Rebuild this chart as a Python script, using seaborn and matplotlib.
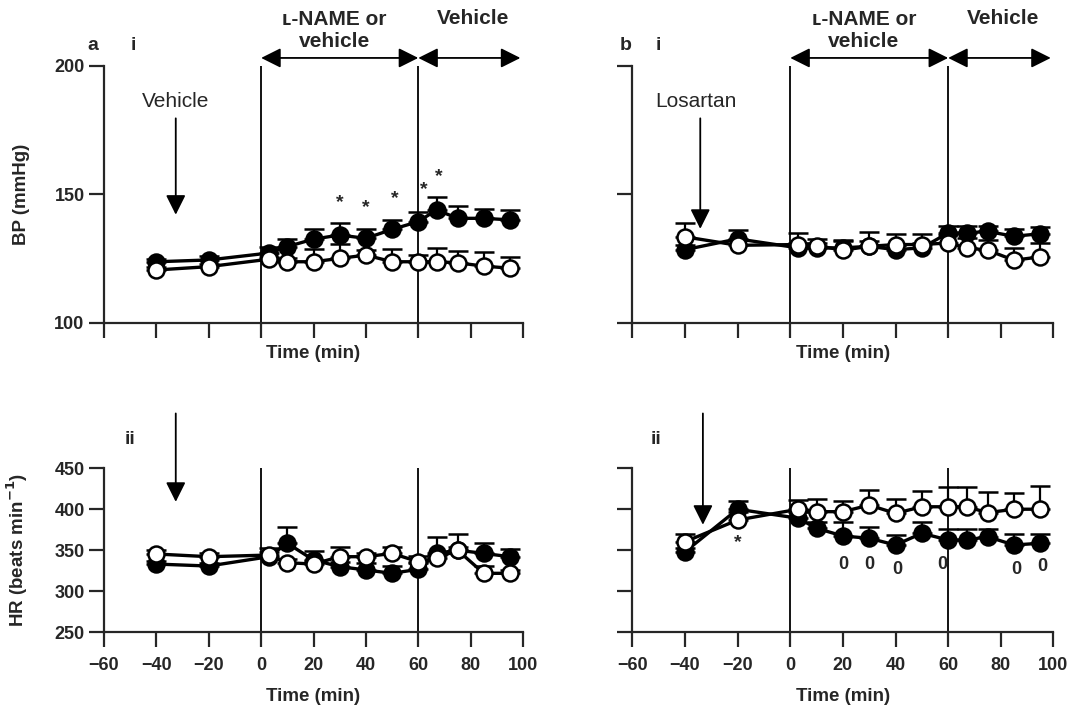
import numpy as np
import pandas as pd
import matplotlib
matplotlib.use('Agg')
import matplotlib.pyplot as plt
import seaborn as sns

sns.set_style('ticks')
plt.rcParams['font.family'] = ['Liberation Sans', 'DejaVu Sans']
plt.rcParams['axes.linewidth'] = 1.6

# --- DATA ---
time_min = [-40, -20, 3, 10, 20, 30, 40, 50, 60, 67, 75, 85, 95]

# panel a: vehicle pre-treatment
bp_a_lname = [123.7, 124.4, 127.1, 129.6, 132.5, 134.1, 132.8, 136.3, 139.3, 143.9, 140.6, 140.6, 140.0]
bp_a_lname_err = [1.0, 1.6, 2.2, 2.9, 4.0, 4.6, 3.7, 3.7, 3.7, 5.1, 4.8, 3.5, 3.9]
bp_a_veh = [120.5, 121.8, 124.7, 123.7, 123.7, 125.0, 126.3, 123.7, 123.7, 123.7, 123.3, 122.0, 121.2]
bp_a_veh_err = [1.0, 1.0, 1.0, 1.5, 5.0, 5.7, 2.0, 5.0, 2.8, 5.3, 4.5, 5.4, 4.5]

hr_a_lname = [333, 330.6, 342, 358.4, 338, 329.8, 325.8, 321.7, 326.6, 346, 350, 346, 342]
hr_a_lname_err = [4, 4, 11, 20, 11, 6, 8, 9, 8, 20, 20, 13, 10]
hr_a_veh = [345.3, 342, 344, 334.7, 333, 342, 342, 346, 335.9, 340, 350, 321.7, 321.7]
hr_a_veh_err = [5, 5, 4, 4, 4, 11.5, 5, 8, 7, 4, 4, 9, 4]

# panel b: losartan pre-treatment
bp_b_lname = [128.4, 132.6, 129.1, 129.1, 129.1, 129.7, 128.4, 129.1, 134.9, 134.9, 135.5, 133.6, 134.6]
bp_b_lname_err = [2, 3.6, 2, 2, 2.5, 2, 2, 2, 2.8, 2.6, 2.2, 2.9, 2.6]
bp_b_veh = [133.4, 130.1, 130.4, 130.0, 128.2, 129.7, 130.4, 130.4, 131.0, 129.1, 128.2, 124.3, 125.6]
bp_b_veh_err = [5.4, 2, 4.5, 2.6, 4, 5.5, 4, 4, 3, 4, 4, 4.8, 5.4]

hr_b_lname = [348, 400, 389, 376.7, 367.3, 364.5, 356.3, 370.6, 362.4, 362.4, 366.4, 356.3, 358.4]
hr_b_lname_err = [5, 10, 8, 8, 17.5, 13.5, 12, 14, 13, 13, 10, 13.4, 11]
hr_b_veh = [360.3, 386.8, 400, 397, 397, 405, 395, 403, 403, 403, 395.8, 400, 400]
hr_b_veh_err = [9, 10, 11, 15, 13, 18.5, 18, 19.5, 24, 24, 25.6, 19.5, 28.5]

# significance marks
star_a_t = [30, 40, 51, 62, 68]
star_a_y = [146.6, 144.9, 148.4, 151.7, 156.9]
star_b_t = [-20]
star_b_y = [359]
zero_b_t = [20, 30, 40.5, 57.7, 86, 95.7]
zero_b_y = [333, 333, 326, 333, 326, 330]

TICK_FS = 13
LABEL_FS = 13.5
NOTE_FS = 15


def draw_series(ax, t, y, err, filled):
    face = 'black' if filled else 'white'
    ax.errorbar(t, y, yerr=[np.zeros(len(err)), err], fmt='none', ecolor='black',
                elinewidth=1.6, capsize=7.5, capthick=1.8, zorder=2)
    df = pd.DataFrame({'t': t, 'y': y})
    sns.lineplot(data=df, x='t', y='y', ax=ax, color='black', lw=2.4, marker='o',
                 markersize=11.5, markerfacecolor=face, markeredgecolor='black',
                 markeredgewidth=1.8, zorder=3 if filled else 4)


def style_axis(ax, ylim, yticks, show_xticklabels, xlabel_y):
    ax.set_xlim(-60, 100)
    ax.set_ylim(*ylim)
    ax.set_xticks(np.arange(-60, 101, 20))
    ax.set_yticks(yticks)
    sns.despine(ax=ax)
    ax.tick_params(axis='both', length=11, width=1.6, labelsize=TICK_FS, pad=3)
    ax.tick_params(axis='x', pad=7)
    for lab in ax.get_yticklabels():
        lab.set_fontweight('bold')
    if show_xticklabels:
        ax.set_xticklabels(['\u221260', '\u221240', '\u221220', '0', '20', '40', '60', '80', '100'],
                           fontweight='bold')
    else:
        ax.set_xticklabels([])
    ax.set_xlabel('Time (min)', fontsize=LABEL_FS, fontweight='bold')
    ax.xaxis.set_label_coords(0.5, xlabel_y)
    ax.axvline(0, color='black', lw=1.3, zorder=1)
    ax.axvline(60, color='black', lw=1.3, zorder=1)


def down_arrow(ax, t, y0, y1):
    ax.annotate('', xy=(t, y1), xytext=(t, y0), annotation_clip=False,
                arrowprops=dict(arrowstyle='-|>,head_length=0.6,head_width=0.3',
                                mutation_scale=20, lw=1.3, color='black',
                                shrinkA=0, shrinkB=0))


def header(ax):
    tr = ax.get_xaxis_transform()
    for a, b in [(0, 60), (60, 99)]:
        ax.annotate('', xy=(b, 1.03), xytext=(a, 1.03), xycoords=tr, textcoords=tr,
                    annotation_clip=False,
                    arrowprops=dict(arrowstyle='<|-|>,head_length=0.6,head_width=0.3',
                                    mutation_scale=20, lw=1.3, color='black',
                                    shrinkA=0, shrinkB=0))
    ax.text(28, 1.178, '\u029f-NAME or', transform=tr, ha='center', va='center',
            fontsize=NOTE_FS, fontweight='bold')
    ax.text(28, 1.095, 'vehicle', transform=tr, ha='center', va='center',
            fontsize=NOTE_FS, fontweight='bold')
    ax.text(81, 1.182, 'Vehicle', transform=tr, ha='center', va='center',
            fontsize=NOTE_FS, fontweight='bold')


fig = plt.figure(figsize=(10.7, 7.09), dpi=100)
ax_ai = fig.add_axes([0.0972, 0.5449, 0.3916, 0.3625])
ax_aii = fig.add_axes([0.0972, 0.1086, 0.3916, 0.2309])
ax_bi = fig.add_axes([0.5910, 0.5449, 0.3935, 0.3625])
ax_bii = fig.add_axes([0.5910, 0.1086, 0.3935, 0.2309])

# --- panel a ---
draw_series(ax_ai, time_min, bp_a_lname, bp_a_lname_err, True)
draw_series(ax_ai, time_min, bp_a_veh, bp_a_veh_err, False)
style_axis(ax_ai, (100, 200), [100, 150, 200], False, -0.085)
header(ax_ai)
ax_ai.set_ylabel('BP (mmHg)', fontsize=LABEL_FS, fontweight='bold')
ax_ai.yaxis.set_label_coords(-0.177, 0.5)
ax_ai.text(-32.6, 186, 'Vehicle', ha='center', va='center', fontsize=NOTE_FS)
down_arrow(ax_ai, -32.6, 179.5, 142)
for t, y in zip(star_a_t, star_a_y):
    ax_ai.text(t, y, '*', ha='center', va='center', fontsize=14, fontweight='bold')

draw_series(ax_aii, time_min, hr_a_lname, hr_a_lname_err, True)
draw_series(ax_aii, time_min, hr_a_veh, hr_a_veh_err, False)
style_axis(ax_aii, (250, 450), [250, 300, 350, 400, 450], True, -0.345)
ax_aii.set_ylabel('HR (beats min$^{\\mathbf{-1}}$)', fontsize=LABEL_FS, fontweight='bold')
ax_aii.yaxis.set_label_coords(-0.177, 0.5)
down_arrow(ax_aii, -32.6, 517, 409)

# --- panel b ---
draw_series(ax_bi, time_min, bp_b_lname, bp_b_lname_err, True)
draw_series(ax_bi, time_min, bp_b_veh, bp_b_veh_err, False)
style_axis(ax_bi, (100, 200), [100, 150, 200], False, -0.085)
ax_bi.set_yticklabels([])
header(ax_bi)
ax_bi.set_ylabel('')
ax_bi.text(-36, 186, 'Losartan', ha='center', va='center', fontsize=NOTE_FS)
down_arrow(ax_bi, -34.2, 179.5, 136.5)

draw_series(ax_bii, time_min, hr_b_lname, hr_b_lname_err, True)
draw_series(ax_bii, time_min, hr_b_veh, hr_b_veh_err, False)
style_axis(ax_bii, (250, 450), [250, 300, 350, 400, 450], True, -0.345)
ax_bii.set_yticklabels([])
ax_bii.set_ylabel('')
down_arrow(ax_bii, -33.2, 517, 381)
for t, y in zip(star_b_t, star_b_y):
    ax_bii.text(t, y, '*', ha='center', va='center', fontsize=14, fontweight='bold')
for t, y in zip(zero_b_t, zero_b_y):
    ax_bii.text(t, y, '0', ha='center', va='center', fontsize=13, fontweight='bold')

# panel letters
for ax, lab, x_lab, x_sub in [(ax_ai, 'a', -0.026, 0.069), (ax_bi, 'b', -0.017, 0.061)]:
    ax.text(x_lab, 1.08, lab, transform=ax.transAxes, ha='center', va='center',
            fontsize=14, fontweight='heavy')
    ax.text(x_sub, 1.08, 'i', transform=ax.transAxes, ha='center', va='center',
            fontsize=14, fontweight='heavy')
for ax, x_sub in [(ax_aii, 0.062), (ax_bii, 0.057)]:
    ax.text(x_sub, 1.173, 'ii', transform=ax.transAxes, ha='center', va='center',
            fontsize=14, fontweight='heavy')

fig.savefig('out.png', dpi=100)
